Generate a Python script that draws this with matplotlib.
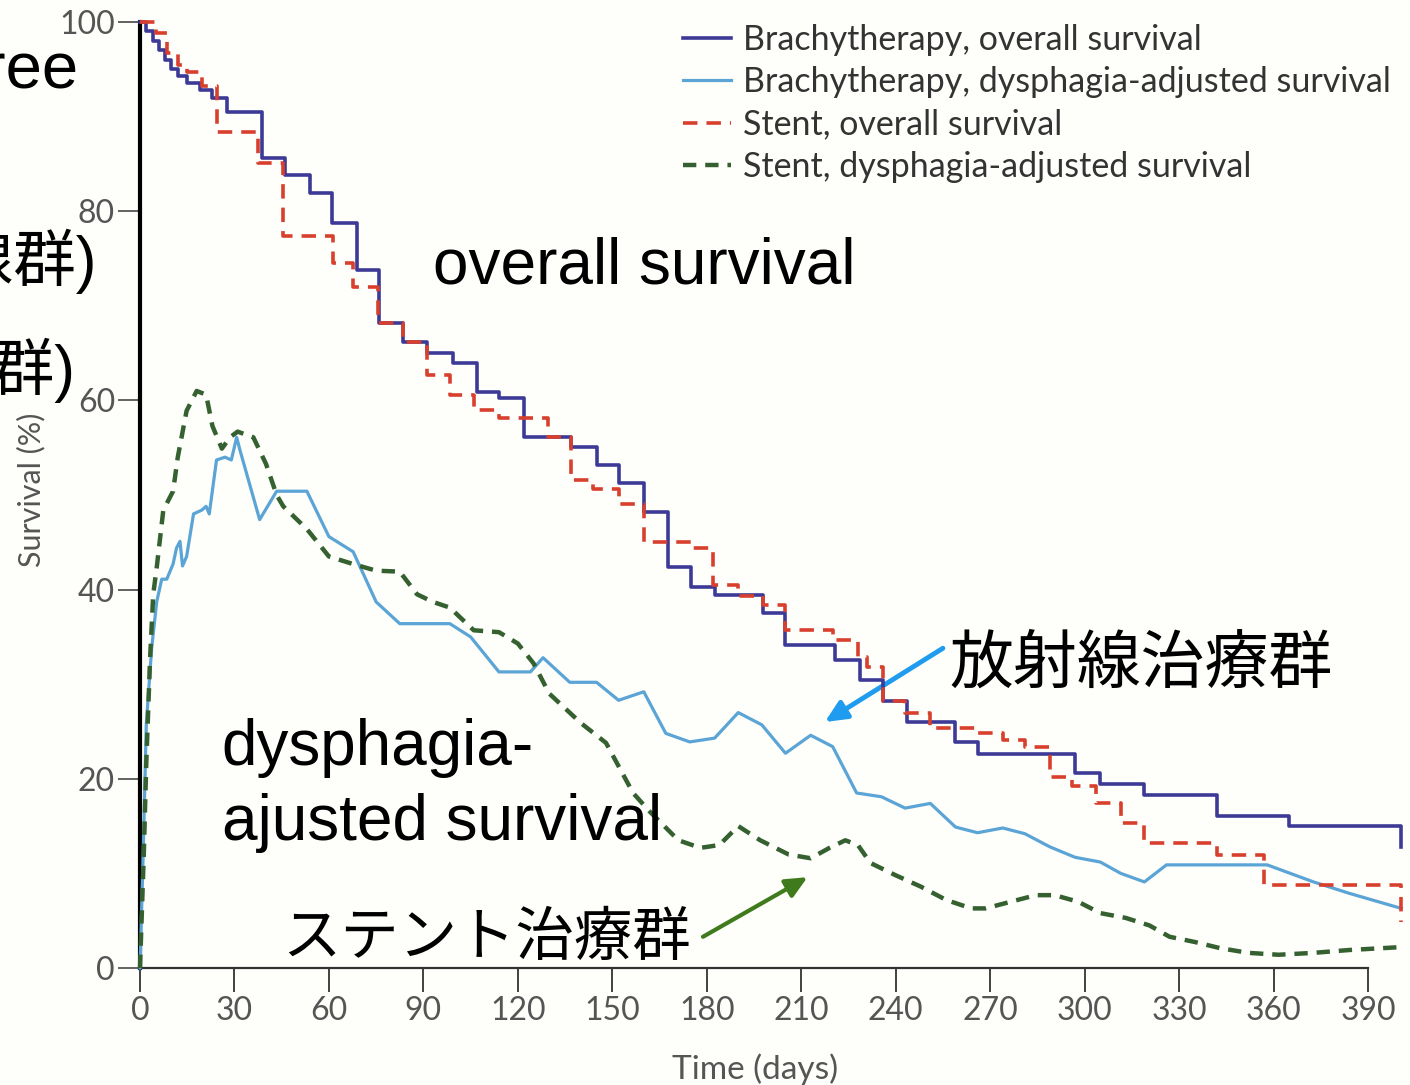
import matplotlib.pyplot as plt

# brachytherapy, overall survival (Kaplan-Meier steps: day, level from that day)
brachy_os_day = [0, 2, 4, 6, 8, 10, 12, 15, 19, 23, 27.6, 38.7, 46, 54, 61, 69, 76, 83.5, 91, 99.4,
                 107, 114, 122, 137, 145, 152, 160, 167.6, 175, 182.5, 198, 205, 220.6, 228.6, 236,
                 243.5, 259, 266, 297, 305, 319, 342, 365, 400.6]
brachy_os = [100, 99, 98, 97, 96, 95, 94.3, 93.6, 92.8, 92, 90.5, 85.6, 83.8, 81.9, 78.7, 73.8, 68.2,
             66.2, 65, 64, 60.9, 60.3, 56.1, 55.1, 53.2, 51.3, 48.2, 42.4, 40.3, 39.4, 37.5, 34.1,
             32.6, 30.4, 28.2, 26.0, 23.9, 22.6, 20.6, 19.5, 18.3, 16.1, 15.0, 12.8]

# stent, overall survival
stent_os_day = [0, 5, 8.5, 12, 15, 19.6, 24.4, 37.6, 45.5, 61.4, 67.8, 75.7, 83.6, 91, 98.4, 106,
                114, 129.5, 137, 144, 152, 160, 175, 182, 190, 198, 205, 220, 228, 231, 236, 243,
                251, 266, 274, 281, 289, 296, 303.6, 311.5, 319, 342, 357, 400.6]
stent_os = [100, 98.8, 96.7, 95.5, 94.7, 93.2, 88.4, 85.1, 77.4, 74.5, 72, 68.2, 66.2, 62.7, 60.6,
            59, 58.1, 56.1, 51.6, 50.6, 49.1, 45, 44.4, 40.5, 39.3, 38.4, 35.7, 34.7, 32.9, 31.8,
            28.2, 27, 25.4, 24.8, 24.1, 23.4, 20.2, 19.2, 17.4, 15.3, 13.2, 11.9, 8.8, 4.9]

# brachytherapy, dysphagia-adjusted survival
brachy_das_day = [0, 1, 2, 3.7, 5.3, 6.9, 8.5, 10.5, 11.6, 12.7, 13.5, 14.8, 17, 19.6, 21, 22, 24.3,
                  27, 29, 30.7, 31.7, 38, 43.4, 53, 60, 67.7, 75, 82.5, 98.4, 105, 114, 124, 128,
                  136.5, 145, 152, 160, 167, 174.6, 182.5, 190, 197.5, 205, 213, 220, 227.6, 235.5,
                  243, 251, 259, 266, 274, 281, 289, 297, 305, 311.5, 319, 326, 358, 372.7, 384,
                  400.6]
brachy_das = [0, 12, 25.8, 33.8, 38.7, 41.1, 41.1, 42.7, 44.4, 45.1, 42.5, 43.5, 48, 48.4, 48.8, 48,
              53.7, 54, 53.7, 56.1, 54.8, 47.4, 50.4, 50.4, 45.6, 44, 38.7, 36.4, 36.4, 35, 31.3,
              31.3, 32.8, 30.2, 30.2, 28.3, 29.2, 24.8, 23.9, 24.3, 27, 25.7, 22.7, 24.6, 23.4,
              18.5, 18.1, 16.9, 17.4, 14.9, 14.3, 14.8, 14.2, 12.8, 11.7, 11.2, 10, 9.1, 10.9, 10.9,
              9.1, 7.9, 6.3]

# stent, dysphagia-adjusted survival
stent_das_day = [0, 1.2, 2, 3.2, 4.2, 5.3, 7.4, 10.5, 12, 14.8, 18, 21, 23, 26, 28.6, 31, 36, 40,
                 43.4, 45.5, 53, 60, 67.7, 75, 82.5, 88, 93, 98.4, 106, 114, 120, 125, 130, 140, 148,
                 156.6, 162, 171, 178, 184, 190, 197, 206, 213, 219, 224, 228, 232, 240, 248, 256,
                 264, 268.5, 276.5, 284.5, 290.5, 298, 305, 313, 320.6, 327, 335, 343, 352, 361.6,
                 372.7, 384, 400]
stent_das = [0, 12, 21.7, 32.7, 39.5, 42.3, 48.4, 50.4, 54, 58.9, 61, 60.6, 57.3, 54.9, 56.1, 56.7,
             56.1, 53.3, 50, 48.8, 46.4, 43.5, 42.7, 42, 41.9, 39.5, 38.7, 38.1, 35.7, 35.5, 34.3,
             32.2, 29, 25.9, 23.8, 18.5, 16.5, 13.5, 12.7, 13, 15, 13.5, 12, 11.6, 12.7, 13.5, 13,
             11.1, 9.8, 8.6, 7.2, 6.3, 6.3, 7, 7.7, 7.7, 7, 5.8, 5.3, 4.5, 3.3, 2.75, 2.1, 1.6, 1.4,
             1.6, 1.9, 2.2]

x_ticks = list(range(0, 391, 30))
y_ticks = [0, 20, 40, 60, 80, 100]
legend_labels = ['Brachytherapy, overall survival',
                 'Brachytherapy, dysphagia-adjusted survival',
                 'Stent, overall survival',
                 'Stent, dysphagia-adjusted survival']

jp = ['Liberation Sans', 'Noto Sans CJK JP']
grey = '#555555'

fig = plt.figure(figsize=(14.1, 10.85), dpi=100, facecolor='#fefefb')
ax = fig.add_axes([140 / 1410, 1 - 968 / 1085, 1262.6 / 1410, 946 / 1085])
ax.set_facecolor('#fefefb')

l1, = ax.plot(brachy_os_day, brachy_os, drawstyle='steps-post', color='#3c3a96', lw=2.6,
              clip_on=False, zorder=4)
l2, = ax.plot(brachy_das_day, brachy_das, color='#5ba4d6', lw=2.3, clip_on=False, zorder=3)
l3, = ax.plot(stent_os_day, stent_os, drawstyle='steps-post', color='#d8402e', lw=2.6,
              ls=(0, (4, 2.5)), clip_on=False, zorder=5)
l4, = ax.plot(stent_das_day, stent_das, color='#35602f', lw=3.2, ls=(0, (3, 2)), clip_on=False,
              zorder=3)

ax.set_xlim(0, 401)
ax.set_ylim(0, 100)
ax.spines['top'].set_visible(False)
ax.spines['right'].set_visible(False)
ax.spines['left'].set_linewidth(3)
ax.spines['left'].set_color('black')
ax.spines['bottom'].set_linewidth(1.6)
ax.spines['bottom'].set_color('#333333')
ax.spines['bottom'].set_bounds(0, 390)

ax.set_xticks(x_ticks)
ax.set_yticks(y_ticks)
ax.tick_params(axis='x', length=17, width=1.3, color='#333333', labelsize=23,
               labelcolor=grey, pad=3)
ax.tick_params(axis='y', length=16, width=1.3, color='#555555', labelsize=23,
               labelcolor=grey, pad=2)
for lab in ax.get_xticklabels() + ax.get_yticklabels():
    lab.set_family('Lato')

ax.set_xlabel('Time (days)', fontsize=24, color=grey, family='Lato')
ax.xaxis.set_label_coords(0.487, -0.09)
ax.set_ylabel('Survival (%)', fontsize=22, color=grey, family='Lato')
ax.yaxis.set_label_coords(-0.075, 0.505)

leg = ax.legend([l1, l2, l3, l4], legend_labels, loc='upper left',
                bbox_to_anchor=(683 / 1410, 1 - 24 / 1085), bbox_transform=fig.transFigure,
                frameon=False, prop={'family': 'Lato', 'size': 24.5}, handlelength=1.4,
                handletextpad=0.35, labelspacing=0.3, borderpad=0, borderaxespad=0)
for t in leg.get_texts():
    t.set_color('#333333')

# annotations of the slide
ax.text(93, 72.4, 'overall survival', fontsize=46, family=jp, va='baseline')
ax.text(26, 21.5, 'dysphagia-', fontsize=46, family=jp, va='baseline')
ax.text(26, 13.5, 'ajusted survival', fontsize=46, family=jp, va='baseline')
ax.text(257, 32.0, '放射線治療群', fontsize=46, family=jp, va='center')
ax.text(45.0, 3.0, 'ステント治療群', fontsize=42, family=jp, va='center')

ax.annotate('', xy=(217.5, 26), xytext=(255, 33.8),
            arrowprops=dict(arrowstyle='-|>,head_length=1.3,head_width=0.6', color='#1f9cf0',
                            lw=3.5, shrinkA=0, shrinkB=0))
ax.annotate('', xy=(212, 9.6), xytext=(178.8, 3.3),
            arrowprops=dict(arrowstyle='-|>,head_length=1.3,head_width=0.6', color='#3f7a1c',
                            lw=3, shrinkA=0, shrinkB=0))

# slide text that the reference shows partly hidden at the left edge
fig.text(78 / 1410, 1 - 88 / 1085, 'dysphagia-free', fontsize=47, family=jp, ha='right',
         va='baseline')
fig.text(97 / 1410, 1 - 261 / 1085, '(放射線群)', fontsize=45, family=jp, ha='right',
         va='center')
fig.text(75 / 1410, 1 - 370 / 1085, '(ステント群)', fontsize=45, family=jp, ha='right',
         va='center')

fig.savefig('out.png', dpi=100, facecolor=fig.get_facecolor())
